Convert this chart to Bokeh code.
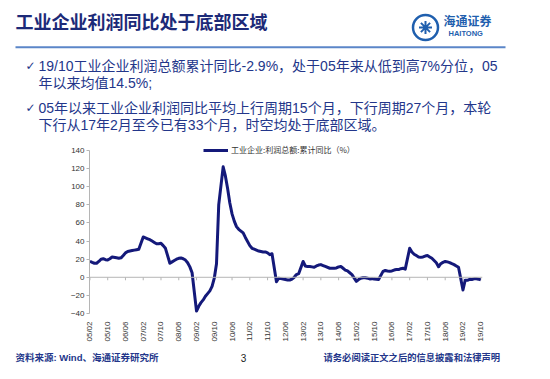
import math
from bokeh.plotting import figure
from bokeh.layouts import column
from bokeh.models import (Range1d, FixedTicker, Label, Legend, LegendItem, Span,
                          ColumnDataSource)
from bokeh.embed import file_html
from bokeh.resources import INLINE

# ---- data: cumulative YoY of industrial profits (%), Feb..Dec each year (no January data)
d2005 = [17.7, 16.5, 15.5, 15.5, 17.5, 20.0, 20.5, 19.5, 19.2, 20.5, 22.5]
d2006 = [21.5, 21.0, 21.5, 24.0, 27.0, 28.5, 29.0, 29.5, 30.0, 30.5, 31.0]
d2007 = [44.5, 43.5, 42.5, 41.5, 40.0, 38.5, 37.0, 37.0, 37.5, 35.0, 32.0]
d2008 = [15.5, 17.0, 18.5, 20.0, 21.0, 21.4, 20.5, 19.0, 16.0, 11.5, 5.0]
d2009 = [-37.3, -32.0, -28.0, -25.0, -21.0, -18.0, -15.0, -10.0, -1.0, 15.0, 80.0]
d2010 = [122.0, 112.0, 98.0, 82.0, 70.0, 62.0, 56.0, 53.0, 51.0, 49.0, 44.0]
d2011 = [35.0, 32.0, 31.0, 30.0, 29.0, 28.5, 28.0, 28.0, 27.0, 25.0, 26.0]
d2012 = [-5.0, -1.0, -1.5, -2.0, -2.5, -3.0, -3.0, -2.0, 0.0, 3.0, 4.0]
d2013 = [17.5, 12.5, 11.8, 12.0, 11.5, 11.0, 12.5, 13.5, 14.0, 13.0, 12.0]
d2014 = [10.0, 10.0, 10.0, 10.3, 11.5, 12.0, 10.0, 8.0, 7.0, 5.0, 3.0]
d2015 = [-4.5, -2.5, -1.0, -0.5, -0.5, -1.0, -1.8, -1.5, -2.0, -2.2, -2.5]
d2016 = [6.5, 7.5, 7.0, 6.8, 7.0, 8.0, 8.5, 8.5, 9.5, 10.0, 9.0]
d2017 = [32.0, 28.0, 25.5, 24.0, 22.5, 22.0, 22.5, 23.5, 24.0, 22.5, 21.0]
d2018 = [16.0, 11.6, 15.0, 16.5, 17.5, 17.0, 16.2, 15.0, 14.0, 12.5, 11.0]
d2019 = [-14.0, -3.3, -3.4, -2.3, -2.4, -1.7, -1.7, -2.1, -2.9]

years = {2005: d2005, 2006: d2006, 2007: d2007, 2008: d2008, 2009: d2009,
         2010: d2010, 2011: d2011, 2012: d2012, 2013: d2013, 2014: d2014,
         2015: d2015, 2016: d2016, 2017: d2017, 2018: d2018, 2019: d2019}

tick_labels = ["05/02", "05/10", "06/06", "07/02", "07/10", "08/06", "09/02", "09/10",
               "10/06", "11/02", "11/10", "12/06", "13/02", "13/10", "14/06", "15/02",
               "15/10", "16/06", "17/02", "17/10", "18/06", "19/02", "19/10"]
y_ticks = [-40, -20, 0, 20, 40, 60, 80, 100, 120, 140]

series_name = "工业企业:利润总额:累计同比（%）"
title_text = "工业企业利润同比处于底部区域"
bullet_lines = ["19/10工业企业利润总额累计同比-2.9%，处于05年来从低到高7%分位，05",
                "年以来均值14.5%;",
                "05年以来工业企业利润同比平均上行周期15个月，下行周期27个月，本轮",
                "下行从17年2月至今已有33个月，时空均处于底部区域。"]
source_text = "资料来源: Wind、海通证券研究所"
page_no = "3"
disclaimer = "请务必阅读正文之后的信息披露和法律声明"


def midx(year, month):
    """month index relative to 2005-02"""
    return (year - 2005) * 12 + (month - 2)


xs, ys = [], []
for yr, vals in years.items():
    for i, v in enumerate(vals):
        xs.append(midx(yr, 2 + i))
        ys.append(v)

tick_pos = [midx(2000 + int(t[:2]), int(t[3:])) for t in tick_labels]
src = ColumnDataSource(dict(x=xs, y=ys))

NAVY = "#23368a"
LINE = "#14197a"
AX = "#333333"
GRAYAX = "#b5b5b5"
LOGO = "#1f5fae"
CJK = "Liberation Sans, Noto Sans CJK SC"
W = 550


def blank(height):
    f = figure(width=W, height=height, x_range=Range1d(0, W), y_range=Range1d(height, 0),
               output_backend="svg", toolbar_location=None,
               min_border=0, min_border_left=0, min_border_right=0,
               min_border_top=0, min_border_bottom=0)
    f.axis.visible = False
    f.grid.visible = False
    f.outline_line_color = None
    f.background_fill_color = "white"
    f.border_fill_color = "white"
    f.frame_align = False
    return f


def lab(f, text, x, y, size, color=NAVY, font=CJK, style="normal", align="left"):
    f.add_layout(Label(x=x, y=y, text=text, text_font=font, text_font_size=size,
                       text_color=color, text_font_style=style, text_align=align,
                       text_baseline="middle"))


# ---------------- header
HH = 135
head = blank(HH)
lab(head, title_text, 15, 22, "18px", color="#1c2a78", style="bold")
head.scatter([425], [27], marker="circle", size=25, fill_color=None,
             line_color=LOGO, line_width=2.5)
head.scatter([425], [27], marker="asterisk", size=13, line_color=LOGO, line_width=2)
lab(head, "海通证券", 443, 21, "12px", color=LOGO, style="bold")
lab(head, "HAITONG", 448, 33, "7.5px", color=LOGO, font="Liberation Sans", style="bold")
head.segment(x0=[15], y0=[46.7], x1=[505], y1=[46.7], line_color="#5b86c8", line_width=2)
lab(head, "✓", 25, 65, "12px", font="DejaVu Sans")
lab(head, "✓", 25, 107, "12px", font="DejaVu Sans")
for txt, yy in zip(bullet_lines, [65, 82, 107, 124]):
    lab(head, txt, 38, yy, "14px")

# ---------------- chart
p = figure(width=W, height=210, x_range=Range1d(-0.2, 176.8), y_range=Range1d(-40, 150),
           output_backend="svg", toolbar_location=None,
           min_border_left=89, min_border_right=68, min_border_top=6, min_border_bottom=32)
p.outline_line_color = None
p.grid.visible = False
p.background_fill_color = "white"
p.border_fill_color = "white"
p.frame_align = False

# zero line with small tick marks hanging below it (horizontal axis crosses at 0)
p.add_layout(Span(location=0, dimension="width", line_color=GRAYAX, line_width=1))
p.segment(x0=tick_pos, y0=[0] * len(tick_pos), x1=tick_pos, y1=[-3.3] * len(tick_pos),
          line_color=GRAYAX, line_width=1)

r = p.line("x", "y", source=src, line_color=LINE, line_width=3, line_join="round")

xa = p.xaxis[0]
xa.ticker = FixedTicker(ticks=tick_pos)
xa.major_label_overrides = {tp: lab_ for tp, lab_ in zip(tick_pos, tick_labels)}
xa.major_label_orientation = math.pi / 2
xa.axis_line_color = None
xa.major_tick_line_color = None
xa.minor_tick_line_color = None
xa.major_label_standoff = 2
xa.major_label_text_font = "Liberation Sans"
xa.major_label_text_font_size = "8px"
xa.major_label_text_color = AX

ya = p.yaxis[0]
ya.ticker = FixedTicker(ticks=y_ticks)
ya.bounds = (-40, 140)
ya.axis_line_color = GRAYAX
ya.major_tick_line_color = GRAYAX
ya.major_tick_in = 0
ya.major_tick_out = 3
ya.minor_tick_line_color = None
ya.major_label_standoff = 2
ya.major_label_text_font = "Liberation Sans"
ya.major_label_text_font_size = "8px"
ya.major_label_text_color = AX

legend = Legend(items=[LegendItem(label=series_name, renderers=[r])],
                location=(114, 158), padding=0, margin=0, spacing=0,
                glyph_width=25, glyph_height=10, label_height=10, label_standoff=3,
                border_line_color=None, background_fill_alpha=0,
                label_text_font="Noto Sans CJK SC", label_text_font_size="8px",
                label_text_color=AX)
p.add_layout(legend)

# ---------------- footer
FH = 34
foot = blank(FH)
lab(foot, source_text, 15, 12, "9.5px", style="bold")
lab(foot, page_no, 243, 12, "10px", color="#222222", font="Liberation Sans", align="center")
lab(foot, disclaimer, 323, 12, "9.3px", style="bold")

layout = column(head, p, foot, spacing=0)
open("out.html", "w").write(file_html(layout, INLINE))
